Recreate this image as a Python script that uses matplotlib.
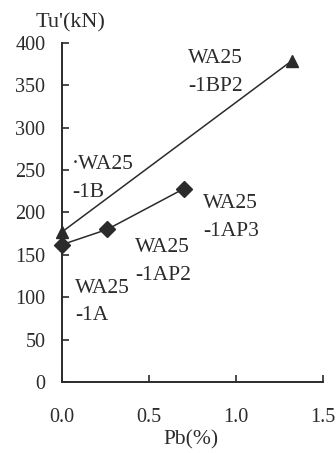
import matplotlib.pyplot as plt

# data
pb_b = [0.0, 1.32]
tu_b = [177, 379]
pb_a = [0.0, 0.26, 0.70]
tu_a = [162, 180, 228]

y_ticks = [0, 50, 100, 150, 200, 250, 300, 350, 400]
x_ticks = [0.0, 0.5, 1.0, 1.5]
x_tick_labels = ['0.0', '0.5', '1.0', '1.5']

# point labels (data coords: left edge, vertical middle of the two lines)
labels = ['WA25\n-1BP2', '·WA25\n-1B', 'WA25\n-1AP3', 'WA25\n-1AP2', 'WA25\n-1A']
label_x = [0.725, 0.058, 0.81, 0.42, 0.075]
label_y = [365, 240, 194, 142, 94]

ink = '#2b2b2b'
plt.rcParams['font.family'] = ['Liberation Serif', 'DejaVu Serif']

fig = plt.figure(figsize=(3.36, 4.53), dpi=100)
ax = fig.add_axes([0.1845, 0.157, 0.777, 0.748])

ax.plot(pb_b, tu_b, color=ink, linewidth=1.1, marker='^', markersize=9,
        markerfacecolor=ink, markeredgecolor=ink, clip_on=False, zorder=3)
ax.plot(pb_a, tu_a, color=ink, linewidth=1.1, marker='D', markersize=8,
        markerfacecolor=ink, markeredgecolor=ink, clip_on=False, zorder=3)

for txt, x, y in zip(labels, label_x, label_y):
    ax.text(x, y, txt, fontsize=15.5, color=ink, ha='left', va='center',
            linespacing=1.6)

ax.set_xlim(0, 1.5)
ax.set_ylim(0, 400)
ax.set_xticks(x_ticks)
ax.set_xticklabels(x_tick_labels)
ax.set_yticks(y_ticks)

for side in ['top', 'right']:
    ax.spines[side].set_visible(False)
for side in ['left', 'bottom']:
    ax.spines[side].set_color(ink)
    ax.spines[side].set_linewidth(1.4)

ax.tick_params(axis='y', direction='in', length=5, width=1.2, colors=ink,
               labelsize=14.5, pad=12)
ax.tick_params(axis='x', direction='in', length=5, width=1.2, colors=ink,
               labelsize=14.5, pad=19)

fig.text(0.211, 0.949, "Tu'(kN)", fontsize=16, color=ink, ha='center', va='center')
fig.text(0.568, 0.03, 'Pb(%)', fontsize=15.5, color=ink, ha='center', va='center')

fig.savefig('out.png', dpi=100)
